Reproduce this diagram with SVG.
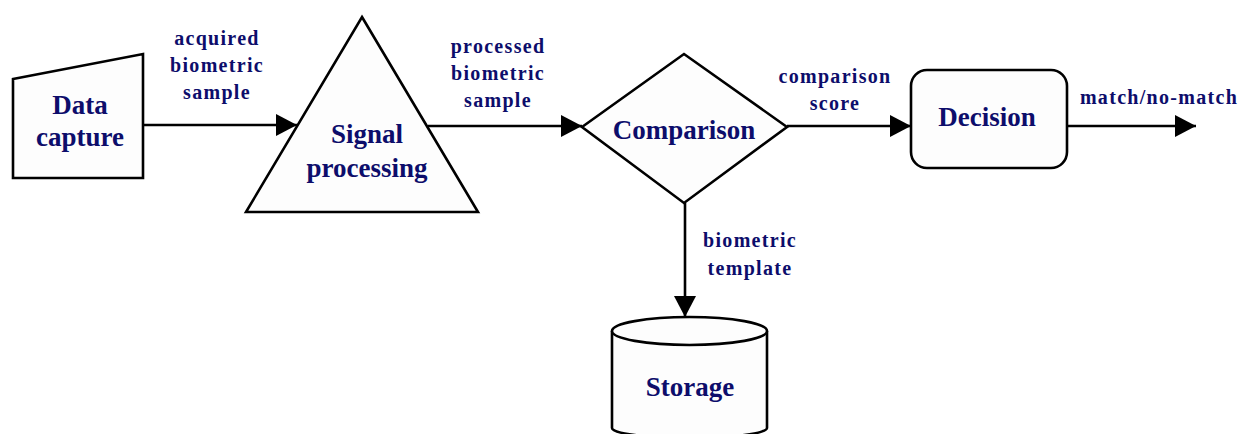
<svg xmlns="http://www.w3.org/2000/svg" width="1245" height="434" viewBox="0 0 1245 434">
<style>
.shape{fill:#fdfdfd;stroke:#000;stroke-width:2.6;stroke-linejoin:miter}
.node{font-family:"Liberation Serif",serif;font-weight:bold;font-size:27px;fill:#0d0d6b;text-anchor:middle}
.lbl{font-family:"Liberation Serif",serif;font-weight:bold;font-size:20px;letter-spacing:1.3px;fill:#0d0d6b;text-anchor:middle}
.conn{stroke:#000;stroke-width:2.6;fill:none}
</style>
<defs>
<marker id="ah" markerUnits="userSpaceOnUse" markerWidth="22" markerHeight="24" viewBox="0 0 22 24" refX="21" refY="12" orient="auto">
<path d="M0,1 L21,12 L0,23 Z" fill="#000"/>
</marker>
</defs>
<rect width="1245" height="434" fill="#fff"/>
<g id="connectors">
<line class="conn" x1="143" y1="125" x2="297" y2="125" marker-end="url(#ah)"/>
<line class="conn" x1="428" y1="126" x2="582" y2="126" marker-end="url(#ah)"/>
<line class="conn" x1="787" y1="126" x2="911" y2="126" marker-end="url(#ah)"/>
<line class="conn" x1="1067" y1="126" x2="1196" y2="126" marker-end="url(#ah)"/>
<line class="conn" x1="685" y1="203" x2="685" y2="317" marker-end="url(#ah)"/>
</g>
<g id="data-capture">
<polygon class="shape" points="13,79 143,54 143,178 13,178"/>
<text class="node" x="80" y="114">Data</text>
<text class="node" x="80" y="146">capture</text>
</g>
<g id="signal-processing">
<polygon class="shape" points="362,17 478,212 246,212"/>
<text class="node" x="367" y="143">Signal</text>
<text class="node" x="367" y="177">processing</text>
</g>
<g id="comparison">
<polygon class="shape" points="582,127 684,54 787,127 684,203"/>
<text class="node" x="684" y="139">Comparison</text>
</g>
<g id="decision">
<rect class="shape" x="911" y="70" width="156" height="98" rx="16" ry="16"/>
<text class="node" x="987" y="126">Decision</text>
</g>
<g id="storage">
<path class="shape" d="M612,331 V428 A77.5,10 0 0 0 767,428 V331"/>
<ellipse class="shape" cx="689.5" cy="331" rx="77.5" ry="14"/>
<text class="node" x="690" y="396">Storage</text>
</g>
<g id="labels">
<text class="lbl" x="217" y="45">acquired</text>
<text class="lbl" x="217" y="72">biometric</text>
<text class="lbl" x="217" y="99">sample</text>
<text class="lbl" x="498" y="53">processed</text>
<text class="lbl" x="498" y="80">biometric</text>
<text class="lbl" x="498" y="107">sample</text>
<text class="lbl" x="835" y="83">comparison</text>
<text class="lbl" x="835" y="110">score</text>
<text class="lbl" x="1159" y="104">match/no-match</text>
<text class="lbl" x="750" y="247">biometric</text>
<text class="lbl" x="750" y="275">template</text>
</g>
</svg>
